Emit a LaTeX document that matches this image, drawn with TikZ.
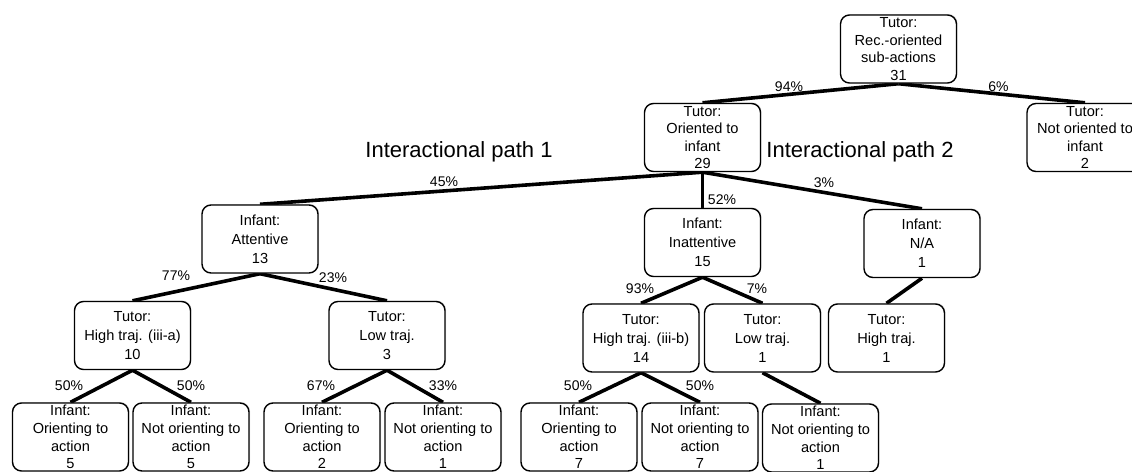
\documentclass[tikz,border=0pt]{standalone}
\usepackage{fontspec}
\setmainfont{Liberation Sans}
\usetikzlibrary{backgrounds,shadows}
\tikzset{
  box/.style={draw=black, fill=white, line width=1.4pt, rounded corners=9pt,
    minimum width=116pt, minimum height=68pt, inner sep=0pt, align=center,
    font=\fontsize{14.6}{17.6}\selectfont,
    drop shadow={opacity=0.25, shadow xshift=1pt, shadow yshift=1pt}},
  box3/.style={box, font=\fontsize{14.6}{19}\selectfont},
  edge/.style={line width=3.6pt, black},
  pct/.style={font=\fontsize{14}{16}\selectfont, inner sep=0pt},
  path/.style={font=\fontsize{22}{26}\selectfont, inner sep=0pt}
}
\begin{document}
\begin{tikzpicture}[x=1pt,y=-1pt]
\clip (0,0) rectangle (1132,471);
% level 0
\node[box] (root) at (898.5,49) {Tutor:\\Rec.-oriented\\sub-actions\\31};
% level 1
\node[box] (orient) at (702.5,137.5) {Tutor:\\Oriented to\\infant\\29};
\node[box] (notorient) at (1085,137.5) {Tutor:\\Not oriented to\\infant\\2};
% level 2
\node[box3] (att) at (260,239) {Infant:\\Attentive\\13};
\node[box3] (inatt) at (702.5,242.5) {Infant:\\Inattentive\\15};
\node[box3] (na) at (922,243.5) {Infant:\\N/A\\1};
% level 3
\node[box3] (higha) at (132.5,335.5) {Tutor:\\High traj. (iii-a)\\10};
\node[box3] (lowa) at (387,335.5) {Tutor:\\Low traj.\\3};
\node[box3] (highb) at (641,338) {Tutor:\\High traj. (iii-b)\\14};
\node[box3] (lowb) at (762.5,338) {Tutor:\\Low traj.\\1};
\node[box3] (highc) at (886.5,338) {Tutor:\\High traj.\\1};
% level 4
\node[box] (o5) at (70.5,437) {Infant:\\Orienting to\\action\\5};
\node[box] (n5) at (191,437) {Infant:\\Not orienting to\\action\\5};
\node[box] (o2) at (322,437) {Infant:\\Orienting to\\action\\2};
\node[box] (n1a) at (443,437) {Infant:\\Not orienting to\\action\\1};
\node[box] (o7) at (579,437) {Infant:\\Orienting to\\action\\7};
\node[box] (n7) at (700,437) {Infant:\\Not orienting to\\action\\7};
\node[box] (n1b) at (820.5,438) {Infant:\\Not orienting to\\action\\1};
% edges
\begin{scope}[on background layer]
\draw[edge] (root.south) -- (orient.north);
\draw[edge] (root.south) -- (notorient.north);
\draw[edge] (orient.south) -- (att.north);
\draw[edge] (orient.south) -- (inatt.north);
\draw[edge] (orient.south) -- (na.north);
\draw[edge] (att.south) -- (higha.north);
\draw[edge] (att.south) -- (lowa.north);
\draw[edge] (inatt.south) -- (highb.north);
\draw[edge] (inatt.south) -- (lowb.north);
\draw[edge] (na.south) -- (highc.north);
\draw[edge] (higha.south) -- (o5.north);
\draw[edge] (higha.south) -- (n5.north);
\draw[edge] (lowa.south) -- (o2.north);
\draw[edge] (lowa.south) -- (n1a.north);
\draw[edge] (highb.south) -- (o7.north);
\draw[edge] (highb.south) -- (n7.north);
\draw[edge] (lowb.south) -- (n1b.north);
\end{scope}
% labels
\node[pct] (p94) at (789,87) {94\%};
\node[pct] (p6) at (998.5,87) {6\%};
\node[pct] (p45) at (444,182) {45\%};
\node[pct] (p52) at (722,200) {52\%};
\node[pct] (p3) at (824,183) {3\%};
\node[pct] (p77) at (176,276) {77\%};
\node[pct] (p23) at (333,278) {23\%};
\node[pct] (p93) at (640,289) {93\%};
\node[pct] (p7) at (757,289) {7\%};
\node[pct] (p50a) at (69,386) {50\%};
\node[pct] (p50b) at (191,386) {50\%};
\node[pct] (p67) at (321,386) {67\%};
\node[pct] (p33) at (443,386) {33\%};
\node[pct] (p50c) at (578,386) {50\%};
\node[pct] (p50d) at (700,386) {50\%};
\node[path] (ip1) at (459,152) {Interactional path 1};
\node[path] (ip2) at (860,152) {Interactional path 2};
\end{tikzpicture}
\end{document}
